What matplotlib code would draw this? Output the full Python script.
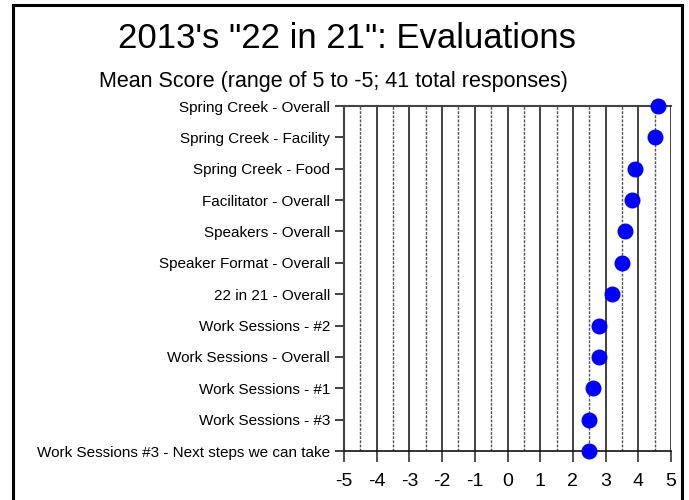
import matplotlib
matplotlib.use("Agg")
import matplotlib.pyplot as plt
from matplotlib.patches import Rectangle
from matplotlib.ticker import FixedLocator, MultipleLocator

plt.rcParams['font.family'] = ['Liberation Sans', 'DejaVu Sans']

categories = [
    "Spring Creek - Overall",
    "Spring Creek - Facility",
    "Spring Creek - Food",
    "Facilitator - Overall",
    "Speakers - Overall",
    "Speaker Format - Overall",
    "22 in 21 - Overall",
    "Work Sessions - #2",
    "Work Sessions - Overall",
    "Work Sessions - #1",
    "Work Sessions - #3",
    "Work Sessions #3 - Next steps we can take",
]
scores = [4.6, 4.5, 3.9, 3.8, 3.6, 3.5, 3.2, 2.8, 2.8, 2.6, 2.5, 2.5]
x_ticks = [-5, -4, -3, -2, -1, 0, 1, 2, 3, 4, 5]
title = "2013's \"22 in 21\": Evaluations"
subtitle = "Mean Score (range of 5 to -5; 41 total responses)"

W, H = 689, 500
fig = plt.figure(figsize=(W / 100, H / 100), dpi=100)
fig.patch.set_facecolor('white')

ax = fig.add_axes([344 / W, 1 - 451 / H, (671 - 344) / W, (451 - 106) / H])
ypos = list(range(len(categories)))

ax.set_xlim(x_ticks[0], x_ticks[-1])
ax.set_ylim(len(categories) - 1, 0)

ax.set_xticks(x_ticks)
ax.set_xticklabels([str(t) for t in x_ticks], fontsize=14)
ax.xaxis.set_minor_locator(MultipleLocator(0.5))
ax.set_yticks(ypos)
ax.set_yticklabels(categories, fontsize=11)
ax.yaxis.set_minor_locator(FixedLocator([i for i in ypos if i % 2 == 1]))

ax.tick_params(axis='x', which='major', length=8, width=1.2, color='#333333', pad=8)
ax.tick_params(axis='y', which='major', length=6.5, width=1.2, color='#222222', pad=3.5)
ax.tick_params(which='minor', length=0)

ax.grid(which='major', axis='x', color='#333333', linewidth=1.3, linestyle='-')
ax.grid(which='minor', axis='x', color='#555555', linewidth=1.0, linestyle=(0, (2, 1)))
ax.grid(which='minor', axis='y', color='#c8c8c8', linewidth=1.5, linestyle='-')
ax.set_axisbelow(True)

ax.spines['right'].set_visible(False)
ax.spines['left'].set_color('#444444')
ax.spines['left'].set_linewidth(1.5)
ax.spines['top'].set_color('#444444')
ax.spines['top'].set_linewidth(1.5)
ax.spines['bottom'].set_color('#111111')
ax.spines['bottom'].set_linewidth(1.2)

ax.plot(scores, ypos, linestyle='none', marker='o', markersize=10.5,
        color='#0000ff', markeredgecolor='#0000ff', clip_on=False, zorder=5)

fig.text(347 / W, 1 - 38 / H, title, ha='center', va='center', fontsize=25)
fig.text(333 / W, 1 - 82 / H, subtitle, ha='center', va='center', fontsize=15.5)

fig.patches.append(Rectangle((13 / W, -0.1), (682 - 13) / W, 1.1 - 5 / H,
                             transform=fig.transFigure, fill=False,
                             edgecolor='black', linewidth=2.2, zorder=10))

fig.savefig("out.png", dpi=100)
